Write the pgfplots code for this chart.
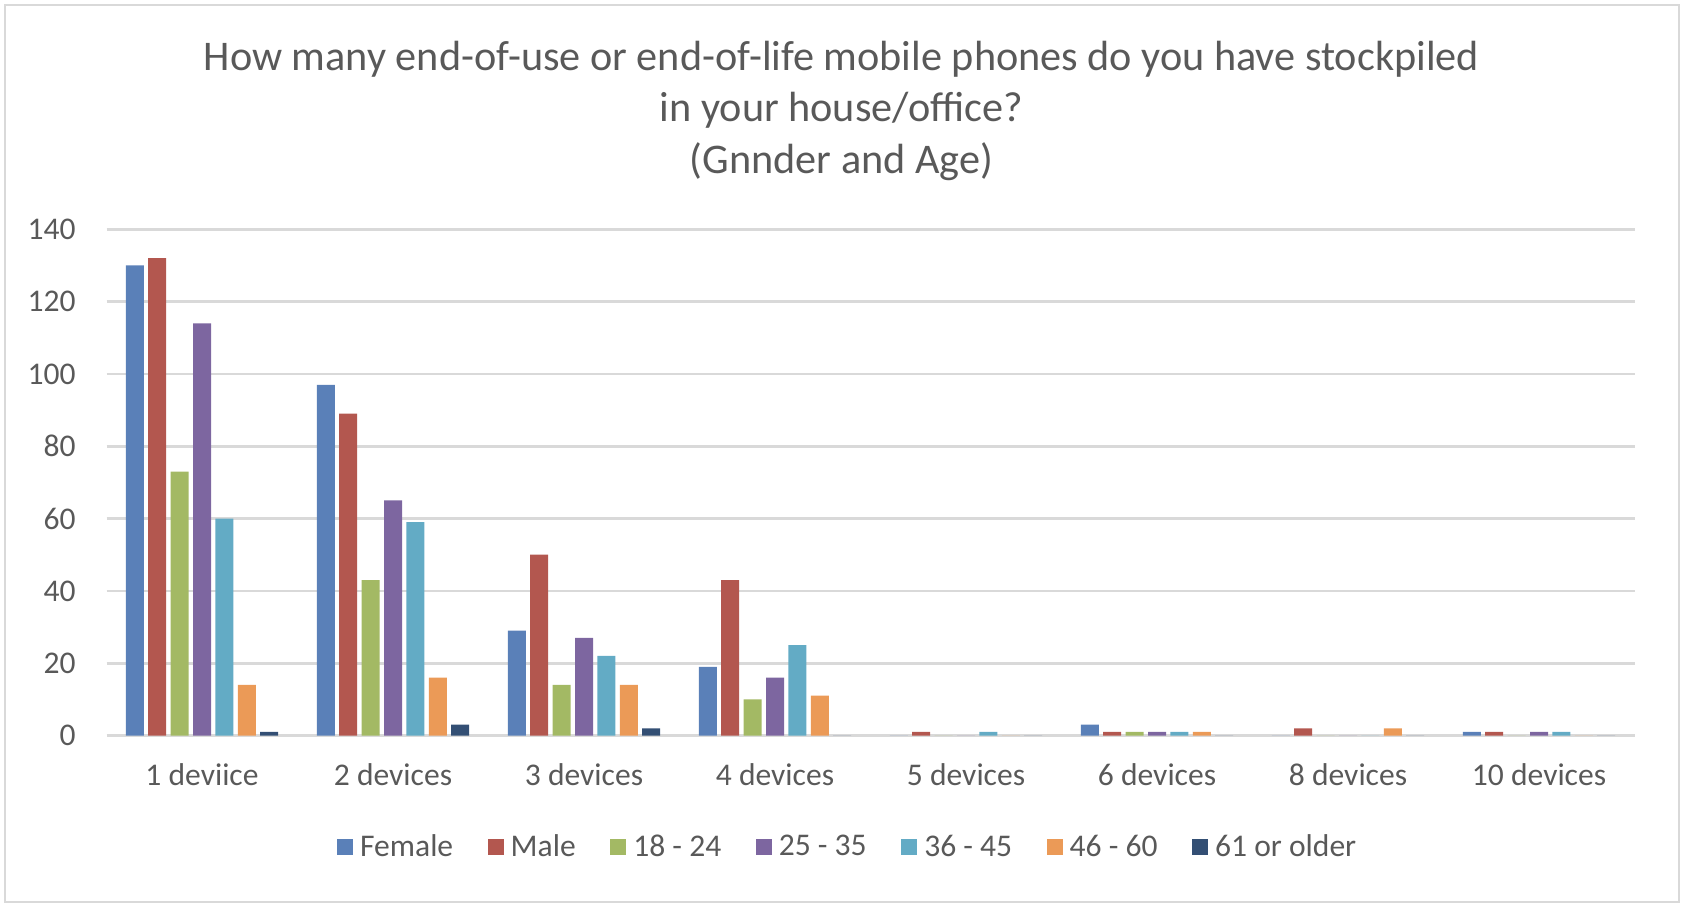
\documentclass[border=0pt]{standalone}
\usepackage{fontspec}
\setmainfont{Carlito}
\usepackage{pgfplots}
\pgfplotsset{compat=1.18}
\usepackage{pgfplotstable}

\definecolor{txt}{HTML}{595959}
\definecolor{gridc}{HTML}{D9D9D9}
\definecolor{cFemale}{HTML}{5A80B8}
\definecolor{cMale}{HTML}{B3574F}
\definecolor{cA}{HTML}{A3B964}
\definecolor{cB}{HTML}{7D66A0}
\definecolor{cC}{HTML}{63ABC5}
\definecolor{cD}{HTML}{EB9A57}
\definecolor{cE}{HTML}{334F74}

% counts per category (0 = 1 device ... 7 = 10 devices)
\pgfplotstableread{
x  female male a1824 a2535 a3645 a4660 a61
0  130    132  73    114   60    14    1
1  97     89   43    65    59    16    3
2  29     50   14    27    22    14    2
3  19     43   10    16    25    11    0
4  0      1    0     0     1     0     0
5  3      1    1     1     1     1     0
6  0      2    0     0     0     2     0
7  1      1    0     1     1     0     0
}\stock

\newcommand{\lblfont}{\fontsize{14.2}{16}\selectfont}
\newcommand{\ttlfont}{\fontsize{19.0}{22}\selectfont}

\begin{document}
\begin{tikzpicture}[x=0.45pt,y=-0.45pt]
 % page frame
 \path (0,0) rectangle (1684,906);
 \draw[gridc, line width=0.9pt] (5,5) rectangle (1679,902);
 % title
 \node[anchor=base, text=txt, inner sep=0pt, font=\ttlfont] at (841.5,70.7)
   {How many end-of-use or end-of-life mobile phones do you have stockpiled};
 \node[anchor=base, text=txt, inner sep=0pt, font=\ttlfont] at (841.5,122)
   {in your house/office?};
 \node[anchor=base, text=txt, inner sep=0pt, font=\ttlfont] at (841.5,173.3)
   {(Gnnder and Age)};

 \begin{axis}[
   at={(47.925pt,-330.975pt)}, anchor=south west,
   scale only axis,
   width=687.6pt, height=227.8pt,
   ybar=1.98pt, bar width=8.1pt,
   xmin=-0.5, xmax=7.5,
   ymin=0, ymax=140,
   ytick={0,20,...,140},
   xtick=data,
   xticklabels={1 deviice,2 devices,3 devices,4 devices,5 devices,6 devices,8 devices,10 devices},
   axis line style={draw=none},
   major tick length=0pt,
   ymajorgrids,
   grid style={gridc, line width=1.2pt},
   /pgf/number format/assume math mode=true,
   ticklabel style={font=\lblfont, text=txt, inner sep=0pt},
   yticklabel style={anchor=east, xshift=-13.7pt},
   xticklabel style={anchor=base, yshift=-22.3pt},
   legend columns=7,
   legend style={draw=none, fill=none, inner sep=0pt, outer sep=0pt,
     at={(0.1509,-0.2203)}, anchor=west, font=\lblfont, text=txt,
     column sep=0pt,
     nodes={inner sep=0pt},
     /tikz/every even column/.append style={column sep=15.5pt}},
   legend image code/.code={\fill[#1] (0pt,-3.6pt) rectangle (7.2pt,3.6pt); \path (10.4pt,0pt);},
 ]
  \addplot[fill=cFemale, draw=none] table[x=x, y=female] {\stock};
  \addplot[fill=cMale, draw=none] table[x=x, y=male] {\stock};
  \addplot[fill=cA, draw=none] table[x=x, y=a1824] {\stock};
  \addplot[fill=cB, draw=none] table[x=x, y=a2535] {\stock};
  \addplot[fill=cC, draw=none] table[x=x, y=a3645] {\stock};
  \addplot[fill=cD, draw=none] table[x=x, y=a4660] {\stock};
  \addplot[fill=cE, draw=none] table[x=x, y=a61] {\stock};
  \legend{Female, Male, 18 - 24, 25 - 35, 36 - 45, 46 - 60, 61 or older}
 \end{axis}
\end{tikzpicture}
\end{document}
